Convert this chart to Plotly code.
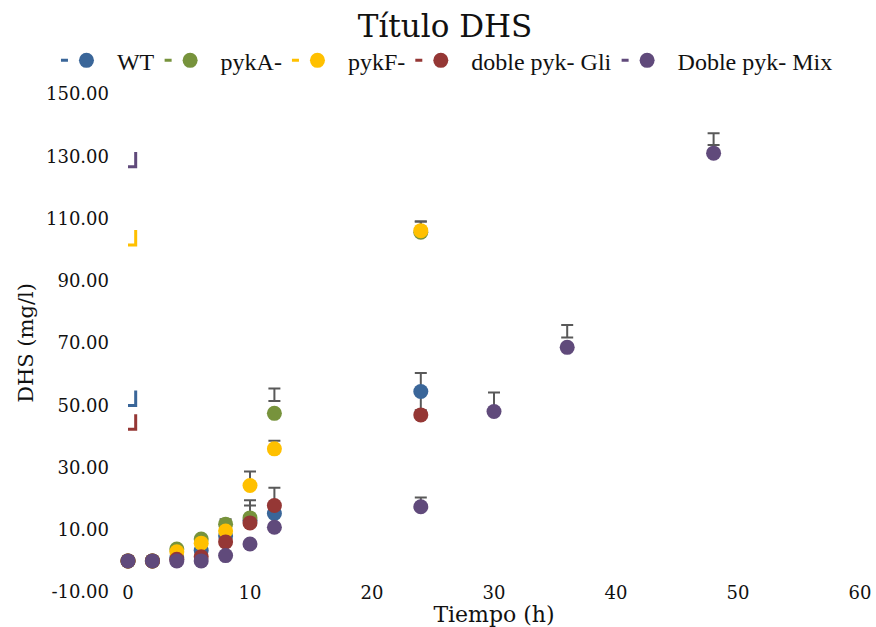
import plotly.graph_objects as go

# --------------------------------------------------------------------------- #
# Data
# --------------------------------------------------------------------------- #
tiempo_corto = [0, 2, 4, 6, 8, 10, 12, 24]
tiempo_largo = [0, 2, 4, 6, 8, 10, 12, 24, 30, 36, 48]

wt = [0.0, 0.0, 1.0, 3.3, 8.0, 13.0, 15.2, 54.4]
pyka = [0.0, 0.0, 3.8, 7.0, 11.8, 13.8, 47.4, 105.6]
pykf = [0.0, 0.0, 2.9, 5.7, 9.6, 24.2, 36.0, 106.1]
doble_gli = [0.0, 0.0, 0.5, 1.3, 6.1, 12.2, 17.8, 46.9]
doble_mix = [0.0, 0.0, 0.0, 0.0, 1.7, 5.4, 10.8, 17.4, 48.0, 68.6, 131.0]

# error bars: upper offset and lower offset (negative lower = cap sits above point)
wt_err_up = [0, 0, 0, 0, 0, 6.5, 0, 6.0]
wt_err_dn = [0, 0, 0, 0, 0, 0, 0, 6.0]
pyka_err_up = [0, 0, 0, 0, 1.6, 4.0, 8.0, 3.4]
pyka_err_dn = [0, 0, 0, 0, 0, 0, -4.0, 0]
pykf_err_up = [0, 0, 0, 0, 0, 4.5, 2.6, 2.9]
pykf_err_dn = [0, 0, 0, 0, 0, 0, 0, 0]
gli_err_up = [0, 0, 0, 0, 0, 0, 5.7, 0]
gli_err_dn = [0, 0, 0, 0, 0, 0, 0, 0]
mix_err_up = [0, 0, 0, 0, 0, 0, 0, 3.0, 6.1, 7.2, 6.4]
mix_err_dn = [0, 0, 0, 0, 0, 0, 0, 0, 0, -3.2, -2.6]

# small corner marks drawn next to the y axis (value at the foot of each mark)
marca_y = {"WT": 49.9, "pykF-": 101.5, "doble pyk- Gli": 42.3, "Doble pyk- Mix": 126.6}
marca_ancho = 0.63
marca_alto = 4.8

y_ticks = [-10, 10, 30, 50, 70, 90, 110, 130, 150]
x_ticks = [0, 10, 20, 30, 40, 50, 60]

nombres = ["WT", "pykA-", "pykF-", "doble pyk- Gli", "Doble pyk- Mix"]
colores = ["#3a6699", "#77933c", "#ffc000", "#953735", "#604a7b"]

series = [
    (tiempo_corto, wt, wt_err_up, wt_err_dn),
    (tiempo_corto, pyka, pyka_err_up, pyka_err_dn),
    (tiempo_corto, pykf, pykf_err_up, pykf_err_dn),
    (tiempo_corto, doble_gli, gli_err_up, gli_err_dn),
    (tiempo_largo, doble_mix, mix_err_up, mix_err_dn),
]

SERIF = "DejaVu Serif"
TEXT = "#111111"
ERR = "#595959"

fig = go.Figure()

# legend-only proxies ("- o" style entries)
for name, color in zip(nombres, colores):
    fig.add_trace(go.Scatter(
        x=[None], y=[None], name=name, mode="lines+markers",
        line=dict(color=color, width=3, dash="7px,100px"),
        marker=dict(color=color, size=15, symbol="circle"),
    ))

# corner marks
for name, color in zip(nombres, colores):
    if name not in marca_y:
        continue
    y0 = marca_y[name]
    fig.add_trace(go.Scatter(
        x=[0, marca_ancho, marca_ancho], y=[y0, y0, y0 + marca_alto],
        mode="lines", line=dict(color=color, width=3),
        showlegend=False, hoverinfo="skip", cliponaxis=False,
    ))

# data
for (x, y, up, dn), name, color in zip(series, nombres, colores):
    fig.add_trace(go.Scatter(
        x=x, y=y, name=name, mode="markers", showlegend=False, cliponaxis=False,
        marker=dict(color=color, size=15, symbol="circle"),
        error_y=dict(type="data", symmetric=False, array=up, arrayminus=dn,
                     color=ERR, thickness=2, width=6),
    ))

fig.update_layout(
    width=876, height=627,
    paper_bgcolor="white", plot_bgcolor="white",
    margin=dict(l=128, r=16, t=94, b=35, autoexpand=False),
    font=dict(family=SERIF, color=TEXT, size=18),
    title=dict(text="Título DHS", font=dict(family=SERIF, size=31, color=TEXT),
               xref="container", x=0.508, xanchor="center",
               yref="container", y=0.958, yanchor="middle"),
    legend=dict(orientation="h", xref="paper", yref="paper",
                x=-0.0984, y=1.112, xanchor="left", yanchor="top",
                font=dict(family="Liberation Serif", size=24, color=TEXT),
                itemwidth=51, bgcolor="rgba(0,0,0,0)"),
    showlegend=True,
)
fig.update_xaxes(
    range=[0, 60], tickvals=x_ticks, showgrid=False, automargin=False,
    zeroline=False, showline=False, ticks="", anchor="free", position=0.024,
    title=dict(text="Tiempo (h)", font=dict(family=SERIF, size=22), standoff=0),
    tickfont=dict(family=SERIF, size=18),
)
fig.update_yaxes(
    range=[-10, 150], tickvals=y_ticks, ticktext=[f"{v:.2f}" for v in y_ticks],
    showgrid=False, zeroline=False, showline=False, ticks="", automargin=False,
    ticklabelstandoff=18,
    title=dict(text="DHS (mg/l)", font=dict(family=SERIF, size=21), standoff=6),
    tickfont=dict(family=SERIF, size=18),
)

# the page's default body margin would shift the figure by 8px
fig.write_html("out.html", config={"displayModeBar": False},
               post_script="document.body.style.margin = '0';")
